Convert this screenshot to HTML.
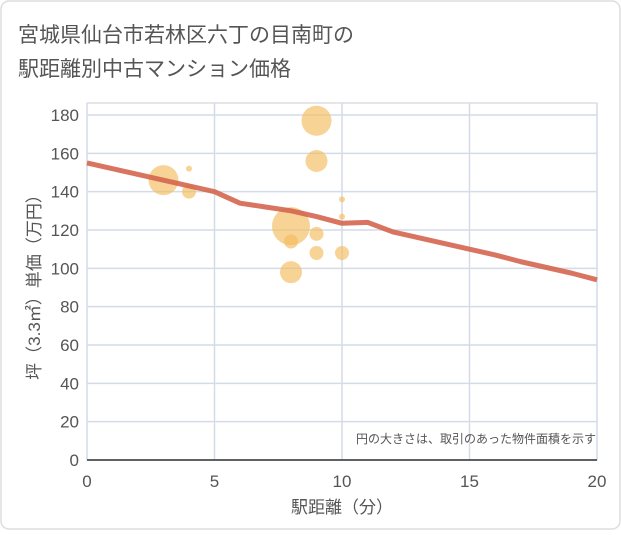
<!DOCTYPE html>
<html><head><meta charset="utf-8"><style>
body{margin:0;background:#fff;font-family:"Liberation Sans","Noto Sans CJK JP",sans-serif;}
#wrap{position:relative;width:621px;height:530px;}
</style></head><body>
<div id="wrap">
<svg id="c" width="621" height="530" xmlns="http://www.w3.org/2000/svg">
<rect x="1" y="1" width="619" height="528" rx="8" fill="#fff" stroke="#ddd" stroke-width="1.5"/>
<text x="18" y="42" font-size="21" fill="#555">宮城県仙台市若林区六丁の目南町の</text>
<text x="18" y="76" font-size="21" fill="#555">駅距離別中古マンション価格</text>
<g id="grid"></g>
<g id="bubbles"></g>
<g id="line"></g>
<g id="axes"></g>
<text x="596" y="443" font-size="12" fill="#555" text-anchor="end">円の大きさは、取引のあった物件面積を示す</text>
<text x="342" y="513" font-size="17" fill="#555" text-anchor="middle">駅距離（分）</text>
<text transform="translate(40,283) rotate(-90)" font-size="17" fill="#555" text-anchor="middle">坪（3.3㎡）単価（万円）</text>
</svg>
</div>
<script>
const xTicks=[0,5,10,15,20];
const yTicks=[0,20,40,60,80,100,120,140,160,180];
const bubbleX=[3,4,4,8,8,8,9,9,9,9,10,10,10];
const bubbleY=[146,152,140,122,114,98,177,156,118,108,136,127,108];
const bubbleR=[15,3,7,19,7,11,15,11,7,7,3,3,7];
const lineX=[0,1,2,3,4,5,6,7,8,9,10,11,12,13,14,15,16,17,18,19,20];
const lineY=[155,152,149,146,143,140,134,132,130,127,123.5,124,119,116,113,110,107,103.5,100.5,97.5,94];
const NS="http://www.w3.org/2000/svg";
const X0=87,X1=597,Y0=460,Y1=115;
const sx=v=>X0+(v-0)/20*(X1-X0);
const sy=v=>Y0-(v-0)/180*(Y0-Y1);
function mk(t,a,p){const e=document.createElementNS(NS,t);for(const k in a)e.setAttribute(k,a[k]);p.appendChild(e);return e;}
const grid=document.getElementById('grid'),axes=document.getElementById('axes');
mk('rect',{x:X0,y:103,width:X1-X0,height:Y0-103,fill:'none',stroke:'#ccc'},grid);
yTicks.forEach(v=>{
 const l=mk('line',{x1:X0,x2:X1,y1:sy(v),y2:sy(v),stroke:'#d3dce8','stroke-width':1.5},grid);
 
 
 const t=mk('text',{x:X0-8,y:sy(v)+6,'font-size':17,fill:'#555','text-anchor':'end'},axes);
 t.textContent=v;
 
 
});
xTicks.forEach(v=>{
 const l=mk('line',{x1:sx(v),x2:sx(v),y1:103,y2:Y0,stroke:'#d3dce8','stroke-width':1.5},grid);
 
 
 const t=mk('text',{x:sx(v),y:487,'font-size':17,fill:'#555','text-anchor':'middle'},axes);
 t.textContent=v;
 
 
});
const ax=mk('line',{x1:X0,x2:X1,y1:Y0,y2:Y0,stroke:'#333','stroke-width':1.5},axes);


const bg=document.getElementById('bubbles');
bubbleX.forEach((x,i)=>{
 const c=mk('circle',{cx:sx(x),cy:sy(bubbleY[i]),r:bubbleR[i],fill:'#f2bb5e','fill-opacity':0.65},bg);
 
 
});
const pl=mk('polyline',{points:lineX.map((x,i)=>sx(x)+','+sy(lineY[i])).join(' '),fill:'none',stroke:'#d4654e','stroke-width':5,'stroke-opacity':0.9,'stroke-linejoin':'round'},document.getElementById('line'));


</script>
</body></html>
